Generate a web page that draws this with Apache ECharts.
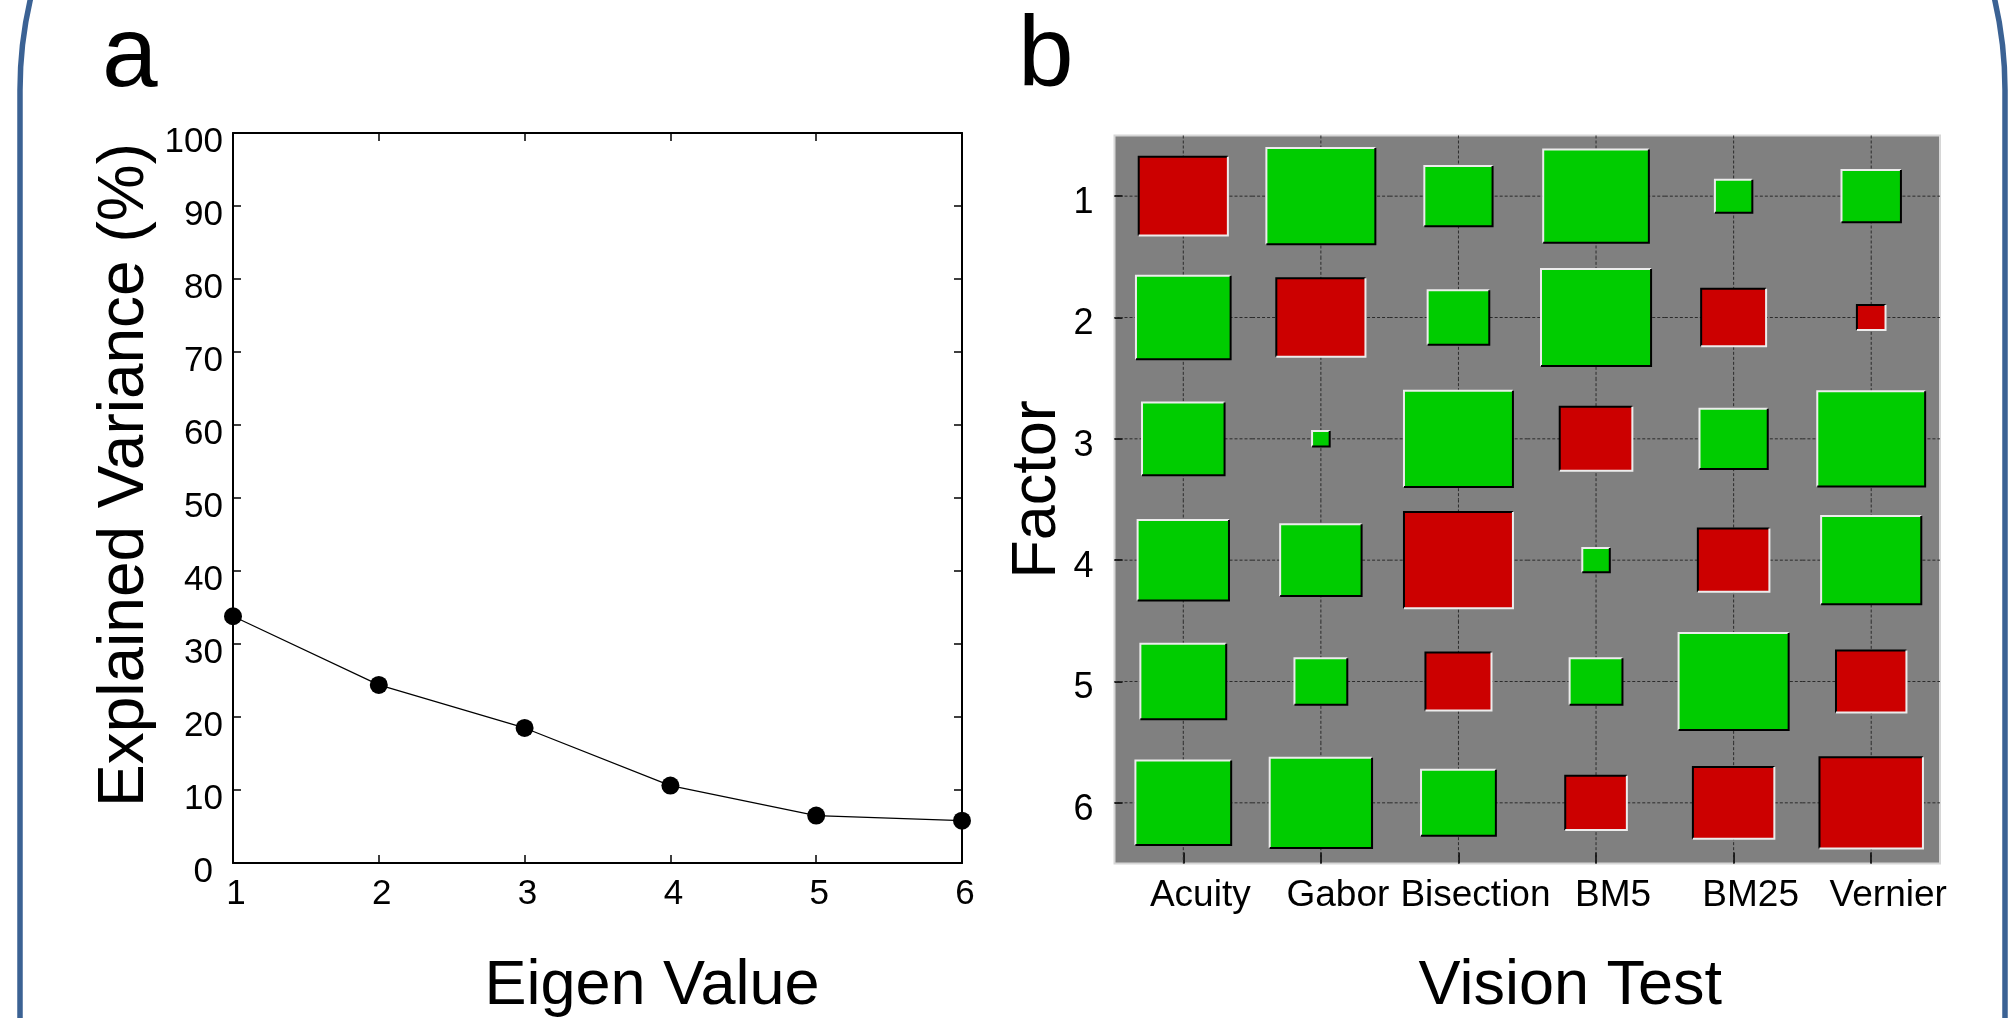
<!DOCTYPE html>
<html>
<head>
<meta charset="utf-8">
<script src="https://cdn.jsdelivr.net/npm/echarts@6/dist/echarts.min.js"></script>
<style>
html,body{margin:0;padding:0;background:#fff;}
#chart{width:2015px;height:1018px;}
</style>
</head>
<body>
<div id="chart"></div>
<script>
// ---- Panel a data ----
const eigenIndex = [1, 2, 3, 4, 5, 6];
const explainedVariance = [33.8, 24.4, 18.5, 10.6, 6.5, 5.8];

// ---- Panel b data ----
const visionTests = ['Acuity', 'Gabor', 'Bisection', 'BM5', 'BM25', 'Vernier'];
const factors = ['1', '2', '3', '4', '5', '6'];
// signed loadings (relative magnitude), one array per factor, in visionTests order
const factor1 = [-0.81, 0.99, 0.62, 0.96, 0.34, 0.54];
const factor2 = [0.86, -0.81, 0.56, 1.00, -0.59, -0.26];
const factor3 = [0.75, 0.16, 0.99, -0.66, 0.62, 0.98];
const factor4 = [0.83, 0.74, -0.99, 0.25, -0.65, 0.91];
const factor5 = [0.78, 0.48, -0.60, 0.48, 1.00, -0.64];
const factor6 = [0.87, 0.93, 0.68, -0.56, -0.74, -0.94];
const factorLoadings = [factor1, factor2, factor3, factor4, factor5, factor6];

const FONT = '"Liberation Sans", Arial, Helvetica, sans-serif';

const lineData = eigenIndex.map((x, i) => [x, explainedVariance[i]]);
const cellData = [];
factorLoadings.forEach((row, r) => row.forEach((w, c) => cellData.push([c, r, w])));

function renderGridLines(params, api) {
  const c = api.coord([api.value(0), api.value(1)]);
  const s = api.size([1, 1]);
  const sw = Math.abs(s[0]), sh = Math.abs(s[1]);
  const st = { stroke: '#2b2b2b', lineWidth: 1, lineDash: [3, 2] };
  return {
    type: 'group',
    children: [
      { type: 'line', shape: { x1: c[0] - sw / 2, y1: c[1], x2: c[0] + sw / 2, y2: c[1] }, style: st },
      { type: 'line', shape: { x1: c[0], y1: c[1] - sh / 2, x2: c[0], y2: c[1] + sh / 2 }, style: st }
    ]
  };
}

function renderHinton(params, api) {
  const c = api.coord([api.value(0), api.value(1)]);
  const s = api.size([1, 1]);
  const w = api.value(2);
  const bw = Math.abs(w) * 0.8 * Math.abs(s[0]);
  const bh = Math.abs(w) * 0.8 * Math.abs(s[1]);
  const x0 = c[0] - bw / 2, y0 = c[1] - bh / 2, x1 = x0 + bw, y1 = y0 + bh;
  const pos = w >= 0;
  const fill = pos ? '#00cc00' : '#cc0000';
  const light = '#ececec', dark = '#000000';
  return {
    type: 'group',
    children: [
      { type: 'rect', shape: { x: x0, y: y0, width: bw, height: bh }, style: { fill: fill } },
      { type: 'polyline', shape: { points: [[x0, y1], [x0, y0], [x1, y0]] },
        style: { stroke: pos ? light : dark, lineWidth: 2, fill: null } },
      { type: 'polyline', shape: { points: [[x0, y1], [x1, y1], [x1, y0]] },
        style: { stroke: pos ? dark : light, lineWidth: 2, fill: null } }
    ]
  };
}

const chart = echarts.init(document.getElementById('chart'), null, { renderer: 'canvas' });

const axisBlack = { color: '#000', width: 2 };
const tickBlack = { color: '#000', width: 1.5 };

const option = {
  backgroundColor: '#ffffff',
  animation: false,
  textStyle: { fontFamily: FONT },
  graphic: [
    { type: 'rect', silent: true, z: -10,
      shape: { x: 20, y: -310, width: 1985, height: 1800, r: 400 },
      style: { fill: 'none', stroke: '#3b6294', lineWidth: 5.5 } },
    { type: 'text', left: 102, top: 8, style: { text: 'a', fontSize: 100, fontFamily: FONT, fill: '#000' } },
    { type: 'text', left: 1018, top: 8, style: { text: 'b', fontSize: 100, fontFamily: FONT, fill: '#000' } }
  ],
  grid: [
    { left: 233, top: 133, width: 729, height: 730, show: false,
      containLabel: false, outerBoundsMode: 'none' },
    { left: 1114.5, top: 135.5, width: 825.5, height: 728, show: true,
      containLabel: false, outerBoundsMode: 'none',
      backgroundColor: '#808080', borderColor: '#d6d6d6', borderWidth: 2 }
  ],
  xAxis: [
    { type: 'value', gridIndex: 0, position: 'bottom', min: 1, max: 6, interval: 1,
      axisLine: { show: true, onZero: false, lineStyle: axisBlack },
      axisTick: { show: true, inside: true, length: 8, lineStyle: tickBlack },
      axisLabel: { fontSize: 35, color: '#000', fontFamily: FONT, margin: 14, padding: [0, 0, 0, 6] },
      splitLine: { show: false },
      name: 'Eigen Value', nameLocation: 'middle', nameGap: 92,
      nameTextStyle: { fontSize: 63, color: '#000', fontFamily: FONT, padding: [0, 0, 0, 109] } },
    { type: 'value', gridIndex: 0, position: 'top', min: 1, max: 6, interval: 1,
      axisLine: { show: true, onZero: false, lineStyle: axisBlack },
      axisTick: { show: true, inside: true, length: 8, lineStyle: tickBlack },
      axisLabel: { show: false }, splitLine: { show: false } },
    { type: 'category', gridIndex: 1, position: 'bottom', data: visionTests,
      axisLine: { show: false },
      axisTick: { show: true, inside: true, alignWithLabel: true, length: 11, lineStyle: { color: '#1a1a1a', width: 2 } },
      axisLabel: { interval: 0, hideOverlap: false, fontSize: 37, color: '#000', fontFamily: FONT, margin: 14, padding: [0, 0, 0, 34] },
      splitLine: { show: false },
      name: 'Vision Test', nameLocation: 'middle', nameGap: 92,
      nameTextStyle: { fontSize: 63, color: '#000', fontFamily: FONT, padding: [0, 0, 0, 86] } }
  ],
  yAxis: [
    { type: 'value', gridIndex: 0, position: 'left', min: 0, max: 100, interval: 10,
      axisLine: { show: true, onZero: false, lineStyle: axisBlack },
      axisTick: { show: true, inside: true, length: 8, lineStyle: tickBlack },
      axisLabel: { fontSize: 35, color: '#000', fontFamily: FONT, margin: 10, padding: [18, 0, 0, 0],
        formatter: v => (v === 0 ? '{z|0}' : String(v)),
        rich: { z: { fontSize: 35, color: '#000', fontFamily: FONT, padding: [0, 10, 0, 0] } } },
      splitLine: { show: false },
      name: 'Explained Variance (%)', nameLocation: 'middle', nameGap: 76,
      nameTextStyle: { fontSize: 64, color: '#000', fontFamily: FONT, padding: [0, 0, 0, 46] } },
    { type: 'value', gridIndex: 0, position: 'right', min: 0, max: 100, interval: 10,
      axisLine: { show: true, onZero: false, lineStyle: axisBlack },
      axisTick: { show: true, inside: true, length: 8, lineStyle: tickBlack },
      axisLabel: { show: false }, splitLine: { show: false } },
    { type: 'category', gridIndex: 1, position: 'left', data: factors, inverse: true,
      axisLine: { show: false },
      axisTick: { show: true, inside: true, alignWithLabel: true, length: 8, lineStyle: { color: '#1a1a1a', width: 2 } },
      axisLabel: { interval: 0, fontSize: 36, color: '#000', fontFamily: FONT, margin: 21,
        formatter: v => '{v|' + v + '}',
        rich: { v: { fontSize: 36, color: '#000', fontFamily: FONT, padding: [14, 0, 0, 0] } } },
      splitLine: { show: false },
      name: 'Factor', nameLocation: 'middle', nameGap: 44,
      nameTextStyle: { fontSize: 63, color: '#000', fontFamily: FONT, padding: [0, 0, 0, 20] } }
  ],
  series: [
    { type: 'line', name: 'Explained Variance', xAxisIndex: 0, yAxisIndex: 0, data: lineData,
      symbol: 'circle', symbolSize: 18, clip: false, z: 5,
      itemStyle: { color: '#000' }, lineStyle: { color: '#000', width: 1.2 } },
    { type: 'custom', name: 'grid', xAxisIndex: 2, yAxisIndex: 2, data: cellData,
      renderItem: renderGridLines, silent: true, z: 1 },
    { type: 'custom', name: 'Loadings', xAxisIndex: 2, yAxisIndex: 2, data: cellData,
      renderItem: renderHinton, z: 3 }
  ]
};
chart.setOption(option);
</script>
</body>
</html>
